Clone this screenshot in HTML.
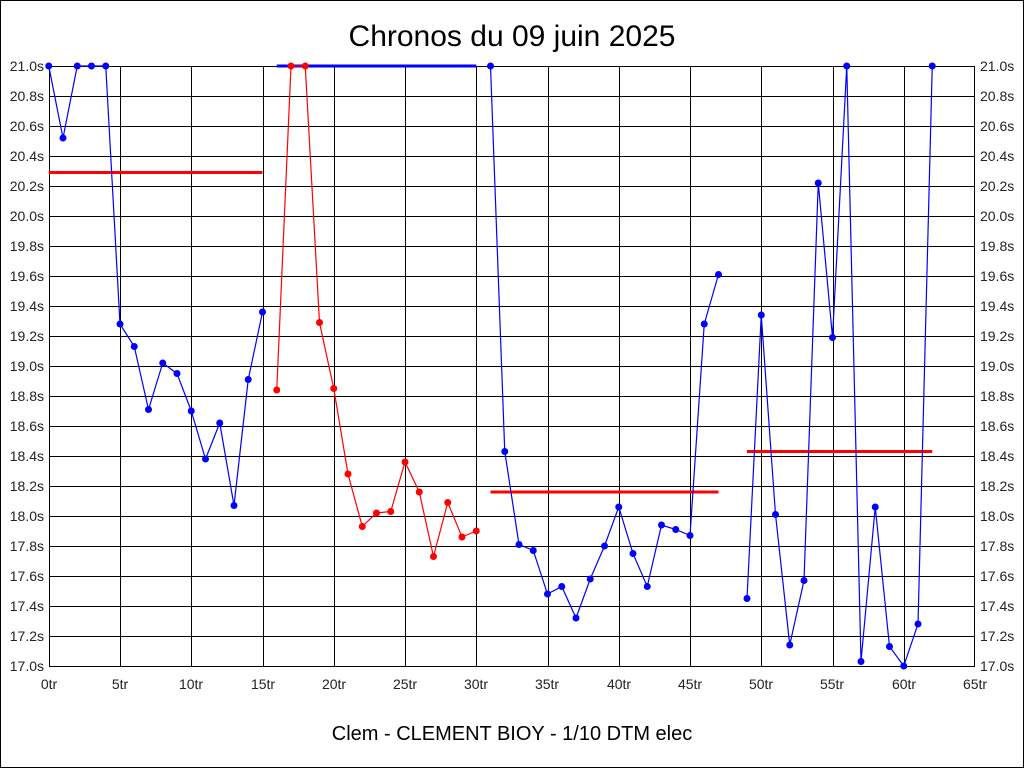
<!DOCTYPE html>
<html><head><meta charset="utf-8"><style>
html,body{margin:0;padding:0;background:#fff}
svg{display:block}
text{font-family:"Liberation Sans",sans-serif}
</style></head><body>
<svg id="s" width="1024" height="768" xmlns="http://www.w3.org/2000/svg">
<rect x="0.5" y="0.5" width="1023" height="767" fill="#fff" stroke="#000"/>
<text x="512" y="46" font-size="30" text-anchor="middle">Chronos du 09 juin 2025</text>
<text x="512" y="740" font-size="20" text-anchor="middle">Clem - CLEMENT BIOY - 1/10 DTM elec</text>
<g id="grid" stroke="#000" stroke-width="1"></g>
<g id="xl" font-size="14" fill="#222" text-anchor="middle">
<text x="49" y="689">0tr</text><text x="120" y="689">5tr</text><text x="191" y="689">10tr</text><text x="263" y="689">15tr</text><text x="334" y="689">20tr</text><text x="405" y="689">25tr</text><text x="476" y="689">30tr</text><text x="547" y="689">35tr</text><text x="619" y="689">40tr</text><text x="690" y="689">45tr</text><text x="761" y="689">50tr</text><text x="832" y="689">55tr</text><text x="904" y="689">60tr</text><text x="975" y="689">65tr</text>
</g>
<g font-size="14" fill="#222">
<text x="44" y="71" text-anchor="end">21.0s</text><text x="980" y="71">21.0s</text>
<text x="44" y="101" text-anchor="end">20.8s</text><text x="980" y="101">20.8s</text>
<text x="44" y="131" text-anchor="end">20.6s</text><text x="980" y="131">20.6s</text>
<text x="44" y="161" text-anchor="end">20.4s</text><text x="980" y="161">20.4s</text>
<text x="44" y="191" text-anchor="end">20.2s</text><text x="980" y="191">20.2s</text>
<text x="44" y="221" text-anchor="end">20.0s</text><text x="980" y="221">20.0s</text>
<text x="44" y="251" text-anchor="end">19.8s</text><text x="980" y="251">19.8s</text>
<text x="44" y="281" text-anchor="end">19.6s</text><text x="980" y="281">19.6s</text>
<text x="44" y="311" text-anchor="end">19.4s</text><text x="980" y="311">19.4s</text>
<text x="44" y="341" text-anchor="end">19.2s</text><text x="980" y="341">19.2s</text>
<text x="44" y="371" text-anchor="end">19.0s</text><text x="980" y="371">19.0s</text>
<text x="44" y="401" text-anchor="end">18.8s</text><text x="980" y="401">18.8s</text>
<text x="44" y="431" text-anchor="end">18.6s</text><text x="980" y="431">18.6s</text>
<text x="44" y="461" text-anchor="end">18.4s</text><text x="980" y="461">18.4s</text>
<text x="44" y="491" text-anchor="end">18.2s</text><text x="980" y="491">18.2s</text>
<text x="44" y="521" text-anchor="end">18.0s</text><text x="980" y="521">18.0s</text>
<text x="44" y="551" text-anchor="end">17.8s</text><text x="980" y="551">17.8s</text>
<text x="44" y="581" text-anchor="end">17.6s</text><text x="980" y="581">17.6s</text>
<text x="44" y="611" text-anchor="end">17.4s</text><text x="980" y="611">17.4s</text>
<text x="44" y="641" text-anchor="end">17.2s</text><text x="980" y="641">17.2s</text>
<text x="44" y="671" text-anchor="end">17.0s</text><text x="980" y="671">17.0s</text>
</g>
<g id="data"></g>
</svg>
<script>
var NS="http://www.w3.org/2000/svg";
function X(t){return 48.75+t*14.25}
function Y(v){return 66+(21-v)*150}
function el(p,n,a){var e=document.createElementNS(NS,n);for(var k in a)e.setAttribute(k,a[k]);p.appendChild(e);return e}
var g=document.getElementById("grid");
el(g,"rect",{x:49.5,y:66.5,width:925,height:600,fill:"none"});
for(var i=1;i<13;i++){var x=Math.round(X(i*5))+0.5;el(g,"line",{x1:x,y1:66,x2:x,y2:666});}
for(var j=1;j<20;j++){var y=66.5+j*30;el(g,"line",{x1:49,y1:y,x2:975,y2:y});}
var d=document.getElementById("data");
function series(start,vals,col){
  var pts=vals.map(function(v,i){return X(start+i)+","+Y(v)}).join(" ");
  el(d,"polyline",{points:pts,fill:"none",stroke:col,"stroke-width":1.2});
  vals.forEach(function(v,i){el(d,"circle",{cx:X(start+i),cy:Y(v),r:3.5,fill:col});});
}
function avg(a,b,v,col){el(d,"line",{x1:X(a),y1:Y(v),x2:X(b),y2:Y(v),stroke:col,"stroke-width":3});}
avg(0,15,20.29,"#f00");
avg(16,30,21.0,"#00f");
avg(31,47,18.16,"#f00");
avg(49,62,18.43,"#f00");
series(0,[21,20.52,21,21,21,19.28,19.13,18.71,19.02,18.95,18.70,18.38,18.62,18.07,18.91,19.36],"#00f");
series(16,[18.84,21,21,19.29,18.85,18.28,17.93,18.02,18.03,18.36,18.16,17.73,18.09,17.86,17.90],"#f00");
series(31,[21,18.43,17.81,17.77,17.48,17.53,17.32,17.58,17.80,18.06,17.75,17.53,17.94,17.91,17.87,19.28,19.61],"#00f");
series(49,[17.45,19.34,18.01,17.14,17.57,20.22,19.19,21,17.03,18.06,17.13,17.0,17.28,21],"#00f");
</script>
</body></html>
